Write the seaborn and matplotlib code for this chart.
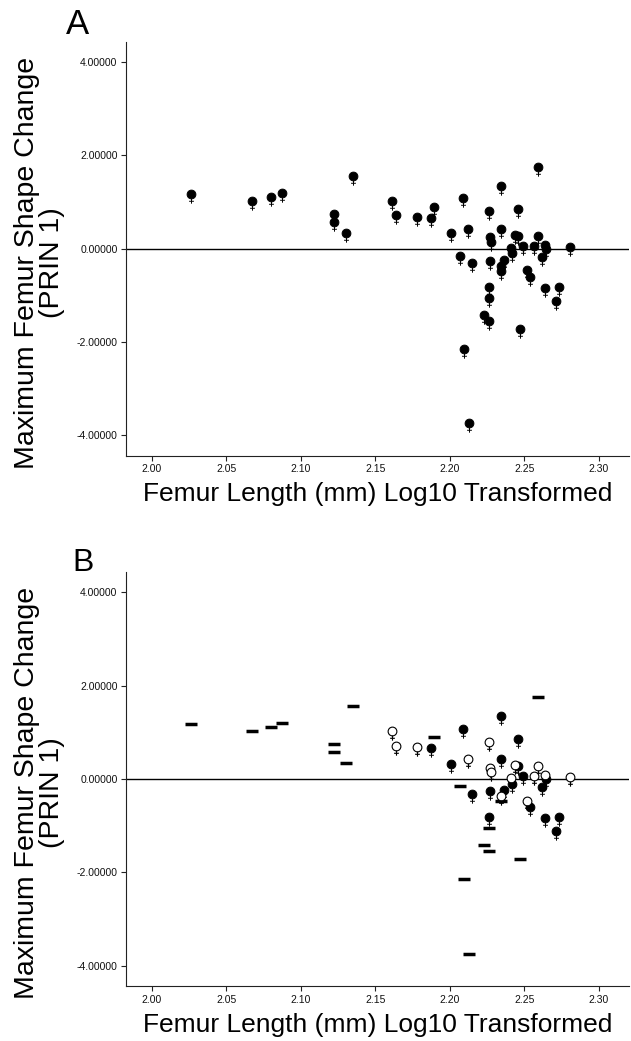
import numpy as np
import pandas as pd
import matplotlib
matplotlib.use("Agg")
import matplotlib.pyplot as plt
from matplotlib.path import Path
from matplotlib.ticker import FormatStrFormatter, MultipleLocator
import seaborn as sns

# Femur length (log10) and PRIN 1 shape change
femur_length = [2.026, 2.067, 2.080, 2.087, 2.122, 2.122, 2.130, 2.135,
                2.161, 2.164, 2.178, 2.187, 2.189, 2.201, 2.209, 2.212,
                2.207, 2.215, 2.226, 2.227, 2.2275, 2.227, 2.226, 2.226,
                2.223, 2.226, 2.2095, 2.2125, 2.234, 2.234, 2.234, 2.234,
                2.236, 2.241, 2.2415, 2.2435, 2.2455, 2.2455, 2.249, 2.247,
                2.2515, 2.254, 2.259, 2.259, 2.2565, 2.264, 2.2645, 2.2615,
                2.264, 2.2735, 2.271, 2.2805]
shape_change = [1.175, 1.03, 1.12, 1.20, 0.745, 0.575, 0.345, 1.57,
                1.018, 0.715, 0.685, 0.67, 0.90, 0.33, 1.08, 0.43,
                -0.145, -0.315, 0.80, 0.245, 0.15, -0.26, -0.82, -1.05,
                -1.42, -1.54, -2.15, -3.74, 1.34, 0.43, -0.37, -0.48,
                -0.24, 0.014, -0.10, 0.29, 0.275, 0.85, 0.06, -1.72,
                -0.46, -0.60, 1.75, 0.28, 0.06, 0.08, -0.01, -0.17,
                -0.84, -0.82, -1.11, 0.04]
# symbol used for each specimen in panel B
group = ["bar", "bar", "bar", "bar", "bar", "bar", "bar", "bar",
         "open", "open", "open", "filled", "bar", "filled", "filled", "open",
         "bar", "filled", "open", "open", "open", "filled", "filled", "bar",
         "bar", "bar", "bar", "bar", "filled", "filled", "open", "bar",
         "filled", "open", "filled", "open", "filled", "filled", "filled", "bar",
         "open", "filled", "bar", "open", "open", "open", "filled", "filled",
         "filled", "filled", "filled", "open"]

df = pd.DataFrame({"length": femur_length, "prin1": shape_change, "group": group})

# female symbol marker: circle with a small cross below
circle = Path.unit_circle()
cross = Path([(0, -1.0), (0, -2.1), (-0.55, -1.55), (0.55, -1.55)],
             [Path.MOVETO, Path.LINETO, Path.MOVETO, Path.LINETO])
female = Path.make_compound_path(circle, cross)

sns.set_theme(style="ticks")
plt.rcParams["font.family"] = ["Liberation Sans", "DejaVu Sans"]

fig = plt.figure(figsize=(6.31, 10.41), dpi=100)
ax_a = fig.add_axes([0.1997, 0.5624, 0.797, 0.3972])
ax_b = fig.add_axes([0.1997, 0.0528, 0.797, 0.3977])


def style_axes(ax):
    ax.axhline(0, color="black", lw=1.0, zorder=0.5)
    ax.set_xlim(1.9826, 2.3201)
    ax.set_ylim(-4.43, 4.43)
    ax.xaxis.set_major_locator(MultipleLocator(0.05))
    ax.yaxis.set_major_locator(MultipleLocator(2.0))
    ax.xaxis.set_major_formatter(FormatStrFormatter("%.2f"))
    ax.yaxis.set_major_formatter(FormatStrFormatter("%.5f"))
    ax.tick_params(direction="out", length=3.6, width=0.8, color="#222222",
                   labelsize=7.5, pad=2.5, labelcolor="#111111")
    sns.despine(ax=ax)
    for side in ["left", "bottom"]:
        ax.spines[side].set_color("#222222")
        ax.spines[side].set_linewidth(0.8)
    ax.set_xlabel("Femur Length (mm) Log10 Transformed", fontsize=19,
                  labelpad=6, color="black")
    ax.set_ylabel("")
    ax.text(-0.173, 0.467, "Maximum Femur Shape Change\n(PRIN 1)",
            transform=ax.transAxes, rotation=90, ha="center", va="center",
            fontsize=20.5, linespacing=0.95, color="black")


# Panel A: every specimen as a filled female symbol
sns.scatterplot(data=df, x="length", y="prin1", marker=female, s=175,
                color="black", edgecolor="black", linewidth=0.7, ax=ax_a)
style_axes(ax_a)

# Panel B: symbol depends on group
bars = df[df["group"] == "bar"]
opens = df[df["group"] == "open"]
filled = df[df["group"] == "filled"]
sns.scatterplot(data=bars, x="length", y="prin1", marker="_", s=64,
                color="black", linewidth=2.5, ax=ax_b)
sns.scatterplot(data=filled, x="length", y="prin1", marker=female, s=175,
                color="black", edgecolor="black", linewidth=0.7, ax=ax_b)
sns.scatterplot(data=opens, x="length", y="prin1", marker=female, s=175,
                facecolor="white", edgecolor="black", linewidth=0.8, ax=ax_b)
style_axes(ax_b)

fig.text(77 / 631, 1 - 25 / 1041, "A", fontsize=25, ha="center", va="center",
         color="black")
fig.text(83 / 631, 1 - 563 / 1041, "B", fontsize=23, ha="center", va="center",
         color="black")

fig.savefig("out.png", dpi=100)
